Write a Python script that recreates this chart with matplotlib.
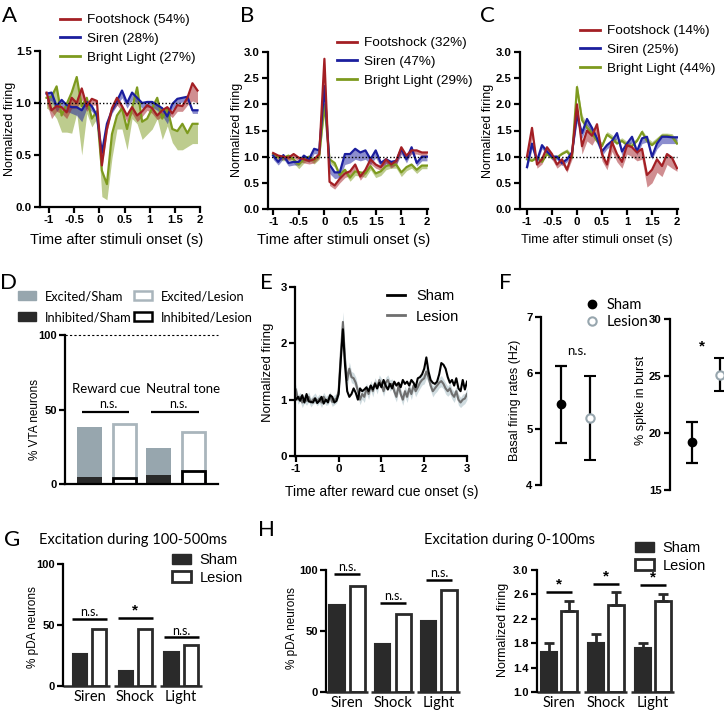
import numpy as np
import matplotlib
matplotlib.use("Agg")
import matplotlib.pyplot as plt
from matplotlib.lines import Line2D
from matplotlib.patches import Patch

sans = ['Liberation Sans', 'DejaVu Sans']
soft = ['Lato', 'DejaVu Sans']
plt.rcParams['font.family'] = sans

# ---------------- data ----------------
t_a = np.round(np.arange(-1.05, 1.96, 0.1), 2)   # 31 bins
t_bc = np.round(np.arange(-1.0, 2.01, 0.1), 2)   # 31 bins
t_e = np.round(np.arange(-1.0, 3.01, 0.05), 2)   # 81 bins

# panel A
a_red = [1.10, 0.93, 0.97, 0.96, 0.91, 1.05, 1.00, 1.14, 0.97, 1.04, 1.02, 0.40, 0.75, 0.95, 1.05, 0.97,
         0.88, 0.96, 0.88, 0.92, 0.98, 0.95, 0.88, 0.93, 0.96, 0.90, 0.98, 0.97, 1.05, 1.19, 1.12]
a_red_lo = [1.00, 0.85, 0.92, 0.90, 0.85, 0.95, 0.95, 1.03, 0.92, 0.98, 0.98, 0.38, 0.72, 0.92, 0.98, 0.92,
            0.82, 0.90, 0.82, 0.87, 0.93, 0.90, 0.84, 0.87, 0.90, 0.86, 0.92, 0.92, 0.98, 1.02, 1.00]
a_blue = [1.09, 1.10, 0.97, 1.03, 0.98, 0.96, 0.96, 0.93, 1.01, 0.97, 0.88, 0.52, 0.80, 0.93, 1.02, 1.12,
          1.00, 1.10, 1.05, 1.00, 1.01, 1.01, 0.98, 0.95, 0.87, 0.99, 1.04, 1.05, 1.06, 0.93, 0.93]
a_blue_lo = [1.02, 1.02, 0.92, 0.97, 0.92, 0.90, 0.88, 0.82, 0.95, 0.92, 0.85, 0.48, 0.77, 0.90, 0.98, 1.05,
             0.95, 1.03, 1.00, 0.95, 0.96, 0.96, 0.93, 0.88, 0.80, 0.94, 0.99, 1.01, 1.02, 0.90, 0.90]
a_green = [1.05, 1.06, 1.16, 0.88, 0.99, 1.10, 1.25, 0.97, 1.05, 0.85, 0.92, 0.35, 0.22, 0.70, 0.88, 0.95,
           0.75, 0.95, 1.15, 0.82, 0.85, 0.95, 1.05, 0.85, 0.95, 0.75, 0.73, 0.80, 0.71, 0.80, 0.80]
a_green_lo = [0.95, 0.92, 0.85, 0.72, 0.72, 0.71, 0.90, 0.50, 0.90, 0.77, 0.85, 0.10, 0.07, 0.47, 0.75, 0.75,
              0.55, 0.85, 0.80, 0.65, 0.70, 0.75, 0.85, 0.65, 0.78, 0.62, 0.55, 0.55, 0.58, 0.61, 0.61]

# panel B
b_red = [1.07, 1.02, 1.00, 0.98, 1.05, 0.98, 0.95, 0.92, 0.95, 1.05, 2.87, 0.52, 0.45, 0.58, 0.68, 0.72,
         0.85, 0.62, 0.75, 0.95, 0.85, 0.80, 0.95, 0.85, 0.92, 1.18, 1.02, 1.12, 1.12, 1.08, 1.08]
b_red_lo = [1.02, 0.96, 0.95, 0.92, 0.98, 0.92, 0.88, 0.86, 0.88, 0.98, 2.70, 0.45, 0.38, 0.50, 0.60, 0.64,
            0.76, 0.55, 0.68, 0.86, 0.78, 0.74, 0.88, 0.78, 0.85, 1.08, 0.95, 1.05, 1.05, 1.02, 1.02]
b_blue = [1.02, 0.90, 1.03, 0.88, 0.90, 0.90, 1.02, 0.95, 1.15, 1.12, 2.35, 0.85, 0.70, 0.70, 1.05, 1.05,
          1.15, 1.08, 1.12, 0.95, 1.12, 0.88, 0.95, 0.90, 0.92, 1.15, 0.95, 1.18, 0.88, 1.00, 1.00]
b_blue_lo = [0.95, 0.84, 0.96, 0.82, 0.84, 0.84, 0.95, 0.89, 1.06, 1.04, 2.20, 0.68, 0.58, 0.60, 0.85, 0.88,
             0.95, 0.92, 0.95, 0.85, 0.98, 0.80, 0.86, 0.82, 0.84, 1.05, 0.88, 1.08, 0.82, 0.92, 0.92]
b_green = [1.05, 1.00, 0.98, 1.02, 0.95, 0.85, 0.95, 1.00, 0.93, 1.02, 2.00, 0.95, 0.88, 0.65, 0.75, 0.60,
           0.72, 0.70, 0.68, 0.82, 0.68, 0.72, 0.82, 0.85, 0.85, 0.70, 0.80, 0.85, 0.75, 0.83, 0.83]
b_green_lo = [0.98, 0.94, 0.92, 0.95, 0.88, 0.77, 0.88, 0.94, 0.86, 0.95, 1.85, 0.88, 0.80, 0.58, 0.68, 0.53,
              0.64, 0.63, 0.60, 0.75, 0.60, 0.64, 0.75, 0.78, 0.78, 0.62, 0.73, 0.78, 0.68, 0.77, 0.77]

# panel C
c_red = [1.00, 1.55, 0.85, 0.95, 1.18, 1.05, 0.85, 0.95, 0.75, 1.05, 2.00, 1.20, 1.50, 1.40, 1.62, 1.05,
         0.85, 1.28, 1.05, 0.90, 1.22, 1.18, 1.08, 1.15, 0.65, 0.75, 0.95, 0.82, 1.05, 0.98, 0.78]
c_red_lo = [0.90, 1.35, 0.78, 0.86, 1.08, 0.95, 0.78, 0.86, 0.70, 0.95, 1.80, 1.05, 1.30, 1.22, 1.40, 0.92,
            0.75, 1.10, 0.90, 0.78, 1.05, 1.00, 0.92, 0.95, 0.42, 0.50, 0.70, 0.62, 0.85, 0.78, 0.72]
c_blue = [0.80, 1.25, 0.92, 1.22, 1.10, 1.00, 1.00, 0.88, 0.95, 1.08, 1.80, 1.45, 1.72, 1.55, 1.35, 1.10,
          1.22, 1.30, 1.45, 1.10, 1.25, 1.38, 1.10, 1.35, 1.38, 1.00, 1.25, 1.38, 1.38, 1.37, 1.37]
c_blue_lo = [0.75, 1.15, 0.88, 1.15, 1.04, 0.94, 0.94, 0.83, 0.90, 1.02, 1.65, 1.35, 1.60, 1.45, 1.25, 1.02,
             1.15, 1.22, 1.35, 1.02, 1.18, 1.28, 1.03, 1.25, 1.28, 0.95, 1.15, 1.25, 1.25, 1.25, 1.25]
c_green = [0.95, 0.92, 0.98, 0.90, 1.05, 0.98, 0.98, 1.05, 1.10, 0.98, 2.33, 1.70, 1.55, 1.45, 1.30, 1.20,
           1.42, 1.35, 1.25, 1.30, 1.22, 1.20, 1.30, 1.47, 1.30, 1.22, 1.30, 1.40, 1.40, 1.38, 1.25]
c_green_hi = [1.00, 0.97, 1.03, 0.96, 1.10, 1.03, 1.03, 1.10, 1.15, 1.04, 2.40, 1.80, 1.62, 1.52, 1.37, 1.27,
              1.48, 1.42, 1.32, 1.36, 1.29, 1.27, 1.36, 1.52, 1.37, 1.29, 1.37, 1.45, 1.45, 1.44, 1.32]

names_a = ['Footshock (54%)', 'Siren (28%)', 'Bright Light (27%)']
names_b = ['Footshock (32%)', 'Siren (47%)', 'Bright Light (29%)']
names_c = ['Footshock (14%)', 'Siren (25%)', 'Bright Light (44%)']

# panel D
d_groups = ['Reward cue', 'Neutral tone']
d_sham_total = [38, 24]
d_sham_inh = [5, 6]
d_lesion_total = [40, 35]
d_lesion_inh = [4, 9]
d_sig = ['n.s.', 'n.s.']

# panel E
e_sham = [1.00, 1.05, 0.98, 1.08, 0.95, 1.10, 0.97, 0.96, 0.95, 1.02,
          0.94, 0.98, 1.05, 0.93, 1.00, 0.95, 1.08, 1.05, 0.95, 0.98,
          1.10, 1.70, 2.25, 1.60, 1.15, 1.05, 1.10, 1.20, 1.12, 1.00,
          1.20, 1.15, 1.18, 1.22, 1.15, 1.25, 1.18, 1.28, 1.20, 1.30,
          1.22, 1.35, 1.25, 1.18, 1.28, 1.20, 1.32, 1.25, 1.30, 1.22,
          1.35, 1.28, 1.32, 1.25, 1.35, 1.30, 1.22, 1.38, 1.40, 1.45,
          1.55, 1.75, 1.50, 1.35, 1.30, 1.28, 1.32, 1.45, 1.65, 1.62,
          1.55, 1.40, 1.30, 1.35, 1.25, 1.38, 1.20, 1.15, 1.35, 1.18,
          1.32]
e_lesion = [1.18, 1.00, 1.05, 0.95, 1.02, 0.98, 1.05, 0.95, 1.00, 1.03,
            0.97, 1.02, 0.95, 1.05, 0.98, 1.00, 1.06, 0.96, 1.00, 1.02,
            1.15, 1.80, 2.38, 1.70, 1.35, 1.55, 1.40, 1.38, 1.30, 1.15,
            1.00, 1.10, 1.05, 1.20, 1.10, 1.25, 1.15, 1.30, 1.20, 1.35,
            1.28, 1.15, 1.30, 1.35, 1.25, 1.28, 1.15, 1.05, 1.25, 1.10,
            1.00, 1.15, 1.05, 1.20, 1.10, 1.25, 1.15, 1.22, 1.30, 1.35,
            1.38, 1.50, 1.40, 1.25, 1.15, 1.20, 1.25, 1.30, 1.33, 1.28,
            1.20, 1.15, 1.20, 1.10, 1.05, 1.15, 1.00, 0.95, 1.00, 1.02,
            1.10]
e_lesion_sem = [0.10, 0.08, 0.08, 0.09, 0.08, 0.08, 0.09, 0.08, 0.08, 0.09,
                0.08, 0.08, 0.09, 0.08, 0.08, 0.09, 0.08, 0.08, 0.09, 0.08,
                0.10, 0.15, 0.18, 0.15, 0.12, 0.12, 0.10, 0.10, 0.10, 0.09,
                0.09, 0.09, 0.10, 0.09, 0.10, 0.09, 0.10, 0.09, 0.10, 0.09,
                0.10, 0.09, 0.10, 0.09, 0.10, 0.09, 0.10, 0.09, 0.10, 0.09,
                0.10, 0.09, 0.10, 0.09, 0.10, 0.09, 0.10, 0.09, 0.10, 0.09,
                0.10, 0.12, 0.10, 0.09, 0.10, 0.09, 0.10, 0.09, 0.10, 0.09,
                0.10, 0.09, 0.10, 0.09, 0.10, 0.09, 0.10, 0.09, 0.10, 0.09,
                0.10]

# panel F
f_groups = ['Sham', 'Lesion']
f_rate = [5.45, 5.20]
f_rate_lo = [4.75, 4.45]
f_rate_hi = [6.13, 5.95]
f_burst = [19.2, 25.1]
f_burst_lo = [17.4, 23.7]
f_burst_hi = [21.0, 26.6]

# panels G / H
cats = ['Siren', 'Shock', 'Light']
g_sham = [26, 12, 28]
g_lesion = [47, 47, 34]
g_sig = ['n.s.', '*', 'n.s.']
g_sig_y = [55, 56, 40]

h_sham = [71, 39, 58]
h_lesion = [87, 64, 84]
h_sig = ['n.s.', 'n.s.', 'n.s.']
h_sig_y = [97, 73, 92]

h_fire_sham = [1.66, 1.80, 1.72]
h_fire_sham_err = [0.14, 0.15, 0.09]
h_fire_lesion = [2.33, 2.42, 2.50]
h_fire_lesion_err = [0.17, 0.22, 0.10]
h_fire_sig = ['*', '*', '*']
h_fire_sig_y = [2.64, 2.77, 2.76]

RED = '#a31f24'
BLUE = '#1b1e9e'
GREEN = '#7d9a1e'
DARK = '#2a2a2a'
GREY = '#97a6ae'

# ---------------- figure ----------------
W, H = 724, 713
fig = plt.figure(figsize=(W / 100, H / 100), dpi=100)


def box(l, t, r, b):
    return [l / W, 1 - b / H, (r - l) / W, (b - t) / H]


def fx(x):
    return x / W


def fy(y):
    return 1 - y / H


def clean(ax, bottom=True):
    ax.spines['top'].set_visible(False)
    ax.spines['right'].set_visible(False)
    ax.spines['left'].set_linewidth(1.6)
    ax.spines['bottom'].set_linewidth(1.6)
    if not bottom:
        ax.spines['bottom'].set_visible(False)
    ax.tick_params(direction='out', length=4, width=1.6, pad=2)
    ax.patch.set_alpha(0)


def ticks(ax, axis, vals, labels, size=8.2):
    if axis == 'x':
        ax.set_xticks(vals, labels, fontweight='bold', fontsize=size)
    else:
        ax.set_yticks(vals, labels, fontweight='bold', fontsize=size)


def put_legend(ax, handles, labels, x, y, size, family, spacing, hlen, pad=0.5, **kw):
    ax.legend(handles, labels, loc='upper left', bbox_to_anchor=(fx(x), fy(y)),
              bbox_transform=fig.transFigure, frameon=False, borderpad=0,
              borderaxespad=0, prop={'family': family, 'size': size},
              labelspacing=spacing, handlelength=hlen, handletextpad=pad, **kw)


def label(x, y, s, size, rot=0, family=sans, **kw):
    fig.text(fx(x), fy(y), s, fontsize=size, rotation=rot, family=family,
             ha='center', va='center', **kw)


def trace_panel(pos, t, traces, names, xlim, ylim, yvals, ylabs, xlabs, leg_xy):
    ax = fig.add_axes(box(*pos))
    clean(ax)
    for mean, edge, col in traces:
        ax.fill_between(t, mean, edge, color=col, alpha=0.5, lw=0)
    for mean, edge, col in traces:
        ax.plot(t, mean, color=col, lw=1.6)
    ax.hlines(1, xlim[0], 2, colors='k', linestyles=(0, (1, 1.5)), lw=1)
    ax.set_xlim(*xlim)
    ax.set_ylim(*ylim)
    ticks(ax, 'x', [-1, -0.5, 0, 0.5, 1, 1.5, 2], xlabs)
    ticks(ax, 'y', yvals, ylabs)
    handles = [Line2D([], [], color=c, lw=2) for c in (RED, BLUE, GREEN)]
    put_legend(ax, handles, names, leg_xy[0], leg_xy[1], 9.7, sans, 0.47, 1.48, pad=0.52)
    return ax


xl = ['-1', '-0.5', '0', '0.5', '1', '1.5', '2']
y3 = [0, 0.5, 1, 1.5, 2, 2.5, 3]
y3l = ['0.0', '0.5', '1.0', '1.5', '2.0', '2.5', '3.0']

# A
trace_panel((40, 51, 200, 207), t_a,
            [(a_green, a_green_lo, GREEN), (a_blue, a_blue_lo, BLUE), (a_red, a_red_lo, RED)],
            names_a, (-1.18, 2.0), (0, 1.5), [0, 0.5, 1, 1.5], ['0.0', '0.5', '1.0', '1.5'], xl, (60, 14))
label(10, 129, 'Normalized firing', 9, 90)
label(117, 240, 'Time after stimuli onset (s)', 10.5)

# B (tick labels as printed in the original)
trace_panel((268, 52, 428, 209), t_bc,
            [(b_green, b_green_lo, GREEN), (b_blue, b_blue_lo, BLUE), (b_red, b_red_lo, RED)],
            names_b, (-1.1, 2.02), (0, 3), y3, y3l, ['-1', '-0.5', '0', '0.5', '1.5', '1', '2'], (337, 37))
label(237, 130, 'Normalized firing', 9, 90)
label(344, 240, 'Time after stimuli onset (s)', 10.5)

# C
trace_panel((520, 52, 678, 209), t_bc,
            [(c_green, c_green_hi, GREEN), (c_blue, c_blue_lo, BLUE), (c_red, c_red_lo, RED)],
            names_c, (-1.14, 2.02), (0, 3), y3, y3l, xl, (580, 25))
label(488, 131, 'Normalized firing', 9, 90)
label(597, 240, 'Time after stimuli onset (s)', 9.3)

# D
axd = fig.add_axes(box(65, 335, 218, 484))
clean(axd)
xd = np.arange(len(d_groups)) * 2 + 1
axd.bar(xd, d_sham_total, 0.72, color=GREY, edgecolor=GREY, lw=0)
axd.bar(xd, d_sham_inh, 0.72, color=DARK, edgecolor=DARK, lw=0)
axd.bar(xd + 1, d_lesion_total, 0.66, color='white', edgecolor='#a9b5bc', lw=2)
axd.bar(xd + 1, d_lesion_inh, 0.66, color='white', edgecolor='black', lw=2)
axd.set_xlim(0.29, 4.71)
axd.set_ylim(0, 100)
axd.hlines(100, 0.29, 4.71, colors='k', linestyles=(0, (2, 2)), lw=0.8, clip_on=False)
axd.set_xticks([])
ticks(axd, 'y', [0, 50, 100], ['0', '50', '100'], 8)
for i, (g, dx) in enumerate(zip(d_groups, [-0.03, 0.19])):
    c = xd[i] + 0.5
    axd.hlines(48.6, c - 0.72, c + 0.65, colors='k', lw=1.6)
    axd.text(c + 0.05, 49.5, d_sig[i], ha='center', va='bottom', fontsize=9, family=soft)
    axd.text(c + dx, 64, g, ha='center', va='center', fontsize=9.5, family=soft)
put_legend(axd,
           [Patch(facecolor=GREY, edgecolor=GREY), Patch(facecolor=DARK, edgecolor=DARK),
            Patch(facecolor='white', edgecolor='#a9b5bc', lw=1.8), Patch(facecolor='white', edgecolor='black', lw=1.8)],
           ['Excited/Sham', 'Inhibited/Sham', 'Excited/Lesion', 'Inhibited/Lesion'],
           18, 290, 9.3, soft, 0.7, 1.38, pad=0.7, ncol=2, columnspacing=0.2)
label(35, 420, '% VTA neurons', 8.5, 90)

# E
axe = fig.add_axes(box(295, 287, 467, 456))
clean(axe)
e_l = np.array(e_lesion)
e_s = np.array(e_lesion_sem)
axe.fill_between(t_e, e_l - e_s, e_l + e_s, color='#c3d3d8', alpha=0.8, lw=0)
axe.plot(t_e, e_lesion, color='#6f6f6f', lw=1.5)
axe.plot(t_e, e_sham, color='black', lw=1.5)
axe.set_xlim(-1.02, 3)
axe.set_ylim(0, 3)
ticks(axe, 'x', [-1, 0, 1, 2, 3], ['-1', '0', '1', '2', '3'])
ticks(axe, 'y', [0, 1, 2, 3], ['0', '1', '2', '3'])
put_legend(axe, [Line2D([], [], color='black', lw=2), Line2D([], [], color='#6f6f6f', lw=2)],
           ['Sham', 'Lesion'], 387, 289, 10.5, sans, 0.45, 1.25, pad=0.75)
label(268, 372, 'Normalized firing', 9.5, 90)
label(382, 492, 'Time after reward cue onset (s)', 10)

# F
axf1 = fig.add_axes(box(541, 317, 605, 485))
clean(axf1, bottom=False)
xf = np.arange(len(f_groups)) + 1
err_lo = [m - l for m, l in zip(f_rate, f_rate_lo)]
err_hi = [h - m for m, h in zip(f_rate, f_rate_hi)]
axf1.errorbar(xf[0], f_rate[0], yerr=[[err_lo[0]], [err_hi[0]]], fmt='o', color='black',
              ms=6, capsize=4, elinewidth=1.6, capthick=1.6, clip_on=False)
axf1.errorbar(xf[1], f_rate[1], yerr=[[err_lo[1]], [err_hi[1]]], fmt='o', color='black',
              mfc='white', mec=GREY, mew=1.5, ms=6, capsize=4, elinewidth=1.6, capthick=1.6, clip_on=False)
axf1.set_xlim(0.31, 2.5)
axf1.set_ylim(4, 7)
axf1.set_xticks([])
ticks(axf1, 'y', [4, 5, 6, 7], ['4', '5', '6', '7'])
axf1.text(1.55, 6.39, 'n.s.', ha='center', va='center', fontsize=9.5, family=soft)
put_legend(axf1, [Line2D([], [], ls='none', marker='o', color='black', ms=6),
                  Line2D([], [], ls='none', marker='o', mfc='white', mec=GREY, mew=1.5, ms=6)],
           f_groups, 585, 298, 10.5, soft, 0.2, 1.0, pad=0.5, numpoints=1)
label(515, 400, 'Basal firing rates (Hz)', 9, 90)

axf2 = fig.add_axes(box(670, 319, 724, 490))
clean(axf2, bottom=False)
err_lo = [m - l for m, l in zip(f_burst, f_burst_lo)]
err_hi = [h - m for m, h in zip(f_burst, f_burst_hi)]
axf2.errorbar(xf[0], f_burst[0], yerr=[[err_lo[0]], [err_hi[0]]], fmt='o', color='black',
              ms=6, capsize=4, elinewidth=1.6, capthick=1.6, clip_on=False)
axf2.errorbar(xf[1], f_burst[1], yerr=[[err_lo[1]], [err_hi[1]]], fmt='o', color='black',
              mfc='white', mec=GREY, mew=1.5, ms=6, capsize=4, elinewidth=1.6, capthick=1.6, clip_on=False)
axf2.set_xlim(0.21, 2.15)
axf2.set_ylim(15, 30)
axf2.set_xticks([])
ticks(axf2, 'y', [15, 20, 25, 30], ['15', '20', '25', '30'])
axf2.text(1.36, 27.6, '*', ha='center', va='center', fontsize=11, fontweight='bold')
label(641, 400, '% spike in burst', 9, 90)


# G / H bar panels
def bar_panel(pos, sham, lesion, sig, sig_y, ylim, yvals, ylabs, off, width, half, xlim,
              err=None, base=0):
    ax = fig.add_axes(box(*pos))
    clean(ax, bottom=False)
    x = np.arange(len(cats))
    hs = [v - base for v in sham]
    hl = [v - base for v in lesion]
    ax.bar(x - off, hs, width, bottom=base, color=DARK, edgecolor=DARK, lw=1.5)
    ax.bar(x + off, hl, width, bottom=base, color='white', edgecolor=DARK, lw=2)
    if err is not None:
        ax.errorbar(x - off, sham, yerr=[[0] * len(x), err[0]], fmt='none', ecolor=DARK,
                    elinewidth=2, capsize=3.5, capthick=2)
        ax.errorbar(x + off, lesion, yerr=[[0] * len(x), err[1]], fmt='none', ecolor=DARK,
                    elinewidth=2, capsize=3.5, capthick=2)
    for i in range(len(x)):
        ax.hlines(sig_y[i], x[i] - half, x[i] + half, colors='black', lw=1.8)
        star = sig[i] == '*'
        ax.text(x[i], sig_y[i] + (ylim[1] - ylim[0]) * 0.005, sig[i], ha='center', va='bottom',
                fontsize=11 if star else 9, fontweight='bold' if star else 'normal',
                family=sans if star else soft)
        left = xlim[0] if i == 0 else x[i] - 0.47
        ax.hlines(ylim[0], left, x[i] + 0.45, colors=DARK, lw=1.8, clip_on=False)
    ax.set_xlim(*xlim)
    ax.set_ylim(*ylim)
    ax.set_xticks(x, cats, fontsize=10.5, family=soft)
    ax.tick_params(axis='x', length=0, pad=3)
    ticks(ax, 'y', yvals, ylabs, 8)
    return ax


axg = bar_panel((63, 564, 200, 686), g_sham, g_lesion, g_sig, g_sig_y, (0, 100),
                [0, 50, 100], ['0', '50', '100'], 0.21, 0.31, 0.38, (-0.58, 2.41))
put_legend(axg, [Patch(facecolor=DARK, edgecolor=DARK), Patch(facecolor='white', edgecolor=DARK, lw=2)],
           ['Sham', 'Lesion'], 172, 553, 10.5, sans, 0.25, 1.3, pad=0.6)
label(33, 627, '% pDA neurons', 8.5, 90)
label(133, 540, 'Excitation during 100-500ms', 10.5, family=soft)

axh1 = bar_panel((326, 570, 460, 692), h_sham, h_lesion, h_sig, h_sig_y, (0, 100),
                 [0, 50, 100], ['0', '50', '100'], 0.22, 0.33, 0.28, (-0.46, 2.46))
label(292, 628, '% pDA neurons', 8.5, 90)

axh2 = bar_panel((537, 570, 675, 692), h_fire_sham, h_fire_lesion, h_fire_sig, h_fire_sig_y, (1, 3),
                 [1, 1.4, 1.8, 2.2, 2.6, 3.0], ['1.0', '1.4', '1.8', '2.2', '2.6', '3.0'],
                 0.21, 0.34, 0.27, (-0.47, 2.47),
                 err=(h_fire_sham_err, h_fire_lesion_err), base=1)
put_legend(axh2, [Patch(facecolor=DARK, edgecolor=DARK), Patch(facecolor='white', edgecolor=DARK, lw=2)],
           ['Sham', 'Lesion'], 635, 541, 10.5, sans, 0.25, 1.3, pad=0.6)
label(503, 630, 'Normalized firing', 9, 90)
label(510, 540, 'Excitation during 0-100ms', 10.5, family=soft)

# panel letters
for s, x, y in [('A', 9, 16), ('B', 247, 16), ('C', 487, 16), ('D', 9, 283), ('E', 266, 283),
                ('F', 505, 283), ('G', 12, 540), ('H', 266, 530)]:
    label(x, y, s, 16, family=soft)

fig.savefig('out.png', dpi=100)
